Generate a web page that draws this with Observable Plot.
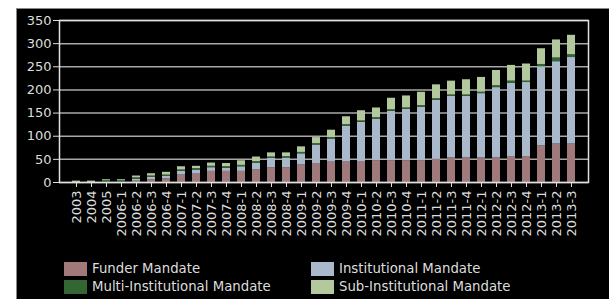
<!DOCTYPE html>
<html><head><meta charset="utf-8">
<script src="https://cdn.jsdelivr.net/npm/d3@7"></script>
<script src="https://cdn.jsdelivr.net/npm/@observablehq/plot@0.6"></script>
<style>
body{margin:0;background:#fff;font-family:"DejaVu Sans",sans-serif;}
#wrap{position:absolute;left:16px;top:8px;width:593px;height:291px;background:#000;box-shadow:inset 1px 1px 0 #888;overflow:hidden}
#chart{position:absolute;left:0;top:0}
.lg{position:absolute;height:15px;display:flex;align-items:center;color:#ddd;font-size:13.3px;white-space:nowrap}
.sw{width:23px;height:14px;margin-right:5px;flex:none}
</style>
</head><body>
<div id="wrap"><div id="chart"></div><div id="legend"></div></div>
<script>
const categories = ["2003","2004","2005","2006-1","2006-2","2006-3","2006-4","2007-1","2007-2","2007-3","2007-4","2008-1","2008-2","2008-3","2008-4","2009-1","2009-2","2009-3","2009-4","2010-1","2010-2","2010-3","2010-4","2011-1","2011-2","2011-3","2011-4","2012-1","2012-2","2012-3","2012-4","2013-1","2013-2","2013-3"];
const seriesNames = ["Funder Mandate","Institutional Mandate","Multi-Institutional Mandate","Sub-Institutional Mandate"];
const seriesColors = ["#a07a7a","#aab8cc","#336633","#b3c89d"];
const funder = [0,0,0,0,3,6,8,16,18,24,24,24,27,32,32,38,41,44,44,44,47,47,47,47,50,53,53,53,53,56,56,79,83,83];
const institutional = [0,0,0,0,4,5,5,8,9,8,7,10,15,20,21,24,40,50,78,86,90,107,111,116,128,133,133,139,152,158,160,171,178,187];
const multi = [0,0,4,4,3,3,3,3,3,3,3,3,3,3,3,3,3,3,3,3,3,3,3,3,3,3,3,3,4,5,3,5,8,6];
const sub = [3,3,2,2,4,5,6,7,5,7,7,10,10,9,8,12,13,16,17,22,21,25,26,29,30,30,33,32,33,34,37,34,39,42];
const yTicks = [0,50,100,150,200,250,300,350];

const seriesValues = [funder, institutional, multi, sub];
const table = [];
seriesValues.forEach((vals, si) => {
  categories.forEach((c, i) => table.push({cat: c, series: seriesNames[si], value: vals[i]}));
});

const plot = Plot.plot({
  width: 593, height: 250,
  marginLeft: 43, marginRight: 21, marginTop: 12, marginBottom: 76,
  style: {background: "transparent", color: "#ddd", fontFamily: "DejaVu Sans, sans-serif", fontSize: "13px"},
  x: {domain: categories, paddingInner: 0.44, paddingOuter: 0.28, label: null},
  y: {domain: [0, 350], label: null},
  color: {domain: seriesNames, range: seriesColors},
  marks: [
    Plot.gridY(yTicks, {stroke: "#a8a8a8", strokeOpacity: 1, strokeWidth: 1.5}),
    Plot.barY(table, {x: "cat", y: "value", fill: "series"}),
    Plot.frame({stroke: "#e0e0e0", strokeWidth: 1.5}),
    Plot.axisY({ticks: yTicks, tickSize: 6, tickPadding: 2, fontSize: 13, label: null}),
    Plot.axisX({tickRotate: -90, tickSize: 5, tickPadding: 3, fontSize: 13, label: null})
  ]
});
document.getElementById("chart").appendChild(plot);

const legend = document.getElementById("legend");
const pos = [[48,253],[295,253],[48,271],[295,271]];
const order = [0,1,2,3];
order.forEach((si, k) => {
  const d = document.createElement("div");
  d.className = "lg";
  d.style.left = pos[k][0] + "px";
  d.style.top = pos[k][1] + "px";
  const s = document.createElement("span");
  s.className = "sw";
  s.style.background = seriesColors[si];
  d.appendChild(s);
  d.appendChild(document.createTextNode(seriesNames[si]));
  legend.appendChild(d);
});
</script>
</body></html>
